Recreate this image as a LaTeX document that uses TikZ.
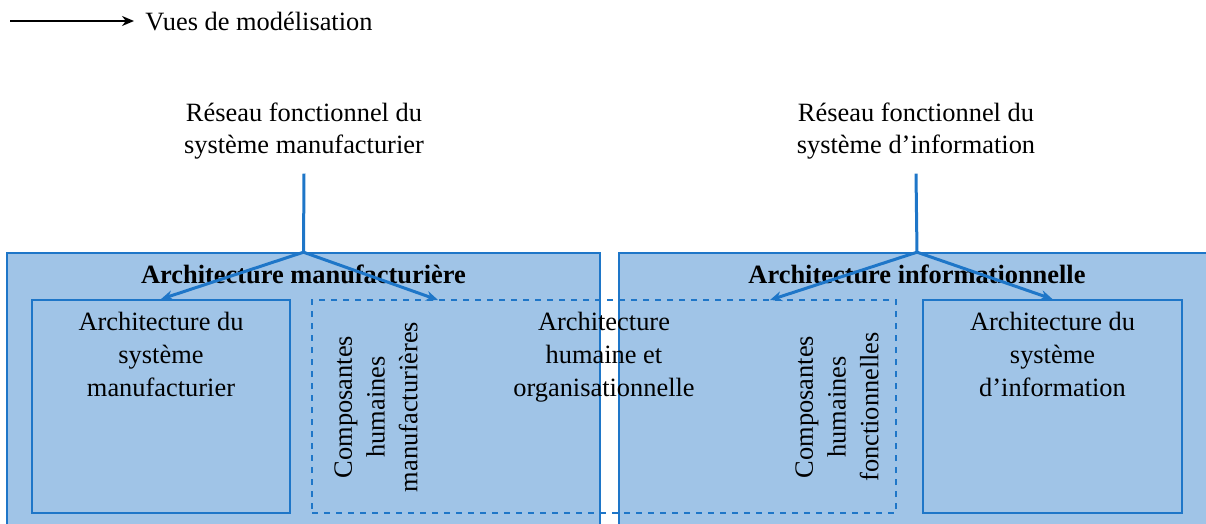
\documentclass[tikz,border=0pt]{standalone}
\usepackage{fontspec}
\setmainfont{Liberation Serif}
\usetikzlibrary{arrows.meta,positioning}

\definecolor{archfill}{RGB}{160,196,231}
\definecolor{archline}{RGB}{30,118,200}

\begin{document}
\begin{tikzpicture}[x=0.5pt,y=-0.5pt,
    font=\fontsize{13.2pt}{16.4pt}\selectfont,
    bigbox/.style={draw=archline,line width=0.8pt,fill=archfill,minimum height=145pt},
    subbox/.style={draw=archline,line width=0.9pt,minimum height=106.5pt},
    boxtext/.style={align=center,inner sep=0pt},
    vtext/.style={align=center,inner sep=0pt,rotate=90},
    title/.style={font=\fontsize{13.2pt}{15pt}\selectfont\bfseries,inner sep=0pt},
    reseau/.style={align=center,inner sep=0pt,outer sep=7pt},
    link/.style={archline,line width=1.5pt},
    vue/.style={-{Stealth[length=6pt,width=5pt]},archline,line width=1.5pt}]
  \useasboundingbox (0,0) rectangle (1206,524);

  % legende
  \coordinate (legA) at (10,21);
  \coordinate (legB) at (134,21);
  \node[anchor=west,inner sep=0pt] (legende) at (145,22) {Vues de modélisation};
  \draw[-{Stealth[length=6pt,width=5pt]},line width=1pt] (legA) -- (legB);

  % architectures
  \node[bigbox,minimum width=296.5pt] (archman) at (303.5,398) {};
  \node[bigbox,minimum width=298pt] (archinfo) at (917,398) {};
  \node[title,below=6pt of archman.north] (tman) {Architecture manufacturière};
  \node[title,below=6pt of archinfo.north] (tinfo) {Architecture informationnelle};

  \node[subbox,minimum width=129pt] (sysman) at (161,406.5) {};
  \node[subbox,minimum width=129.5pt] (sysinfo) at (1052.5,406.5) {};
  \node[subbox,dashed,minimum width=292pt] (hum) at (604,406.5) {};

  \node[boxtext,below=6.5pt of sysman.north] {Architecture du\\système\\manufacturier};
  \node[boxtext,below=6.5pt of sysinfo.north] {Architecture du\\système\\d’information};
  \node[boxtext,below=6.5pt of hum.north] {Architecture\\humaine et\\organisationnelle};
  \node[vtext] (compman) at (376,407) {Composantes\\humaines\\manufacturières};
  \node[vtext] (compinfo) at (837,407) {Composantes\\humaines\\fonctionnelles};

  % reseaux fonctionnels
  \node[reseau] (resman) at (304,131) {Réseau fonctionnel du\\système manufacturier};
  \node[reseau] (resinfo) at (916,131) {Réseau fonctionnel du\\système d’information};

  \coordinate (humL) at (438,300);
  \coordinate (humR) at (770,300);

  \draw[link] (resman.south) -- (archman.north);
  \draw[link] (resinfo.south) -- (archinfo.north);
  \path[vue]
    (archman.north) edge (sysman.north)
    (archman.north) edge (humL)
    (archinfo.north) edge (humR)
    (archinfo.north) edge (sysinfo.north);
\end{tikzpicture}
\end{document}
